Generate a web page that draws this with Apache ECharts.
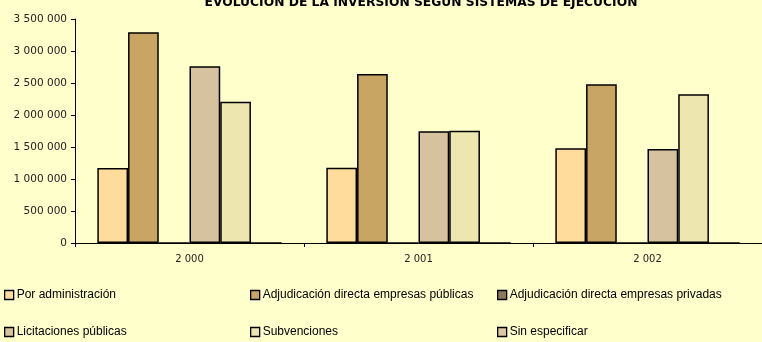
<!DOCTYPE html>
<html>
<head>
<meta charset="utf-8">
<script src="https://cdn.jsdelivr.net/npm/echarts@6/dist/echarts.min.js"></script>
<style>
  html, body { margin: 0; padding: 0; background: #FFFFCC; }
  #chart { width: 762px; height: 342px; }
</style>
</head>
<body>
<div id="chart"></div>
<script>
// Investment by execution system, per year
const years = ['2 000', '2 001', '2 002'];
const seriesNames = [
  'Por administración',
  'Adjudicación directa empresas públicas',
  'Adjudicación directa empresas privadas',
  'Licitaciones públicas',
  'Subvenciones',
  'Sin especificar'
];
const porAdministracion = [1170000, 1177000, 1479000];
const adjPublicas = [3292000, 2640000, 2479000];
const adjPrivadas = [0, 0, 0];
const licitaciones = [2760000, 1745000, 1469000];
const subvenciones = [2208000, 1755000, 2323000];
const sinEspecificar = [0, 0, 0];
const yTicks = { min: 0, max: 3500000, interval: 500000 };

const values = [porAdministracion, adjPublicas, adjPrivadas, licitaciones, subvenciones, sinEspecificar];
const colors = ['#FFDB9C', '#C8A562', '#8C7B5B', '#D7C29F', '#EDE7AF', '#D9C6A3'];

function spaced(n) {
  return String(n).replace(/\B(?=(\d{3})+(?!\d))/g, ' ');
}

// legend slots: 3 columns x 2 rows
const legendCols = [4, 250, 497];
const legendRows = [289, 326];

const chart = echarts.init(document.getElementById('chart'), null, { renderer: 'canvas' });
chart.setOption({
  backgroundColor: '#FFFFCC',
  animation: false,
  title: {
    text: 'EVOLUCIÓN DE LA INVERSIÓN SEGÚN SISTEMAS DE EJECUCIÓN',
    left: 416,
    textAlign: 'center',
    top: -8,
    textStyle: { fontFamily: 'DejaVu Sans', fontSize: 12.3, fontWeight: 'bold', color: '#000' }
  },
  legend: seriesNames.map((name, i) => ({
    data: [name],
    left: legendCols[i % 3],
    top: legendRows[Math.floor(i / 3)],
    padding: 0,
    itemWidth: 9,
    itemHeight: 9,
    itemGap: 4,
    icon: 'rect',
    selectedMode: false,
    itemStyle: { borderColor: '#000', borderWidth: 1.3 },
    textStyle: { fontFamily: 'Liberation Sans', fontSize: 12, color: '#000', padding: [1, 0, 0, -2] }
  })),
  grid: { left: 75, right: -6, top: 19, bottom: 99, containLabel: false },
  xAxis: {
    type: 'category',
    data: years,
    boundaryGap: true,
    axisLine: { lineStyle: { color: '#000', width: 1 } },
    axisTick: { show: true, length: 4, lineStyle: { color: '#000' } },
    axisLabel: { fontFamily: 'DejaVu Sans', fontSize: 10, color: '#222', margin: 11 }
  },
  yAxis: {
    type: 'value',
    min: yTicks.min,
    max: yTicks.max,
    interval: yTicks.interval,
    splitLine: { show: false },
    axisLine: { show: true, lineStyle: { color: '#000', width: 1 } },
    axisTick: { show: true, length: 4, lineStyle: { color: '#000' } },
    axisLabel: { fontFamily: 'DejaVu Sans', fontSize: 10.5, color: '#222', margin: 8, formatter: spaced }
  },
  series: seriesNames.map((name, i) => ({
    name: name,
    type: 'bar',
    data: values[i],
    barGap: 0,
    barCategoryGap: '19.5%',
    itemStyle: { color: colors[i], borderColor: '#000', borderWidth: 1.5 }
  }))
});
</script>
</body>
</html>
